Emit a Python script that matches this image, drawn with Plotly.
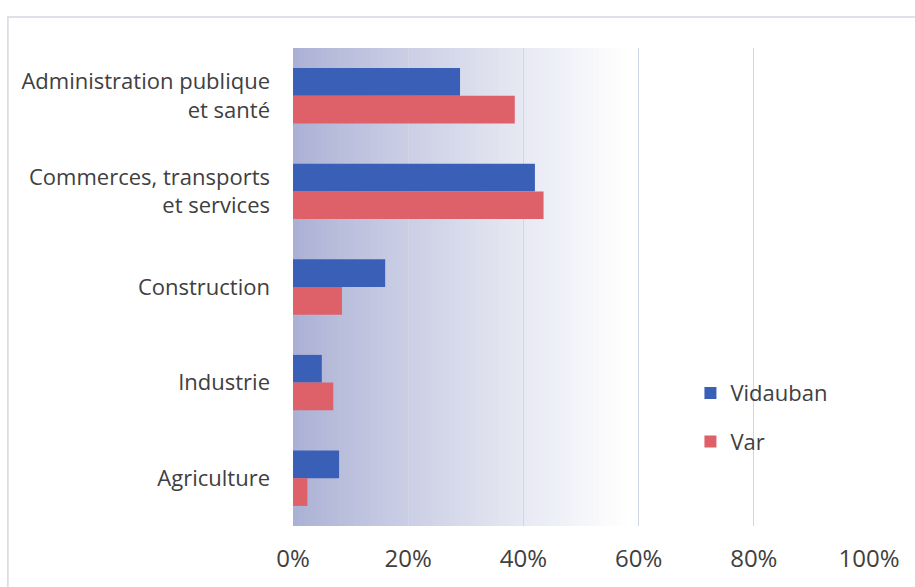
import plotly.graph_objects as go

# Employment share by sector (%)
categories = [
    "Administration publique<br>et santé",
    "Commerces, transports<br>et services",
    "Construction",
    "Industrie",
    "Agriculture",
]
vidauban = [29, 42, 16, 5, 8]
var = [38.5, 43.5, 8.5, 7, 2.5]
x_ticks = [0, 20, 40, 60, 80, 100]
x_tick_labels = ["0%", "20%", "40%", "60%", "80%", "100%"]

BLUE = "#3a5fb6"
RED = "#de6169"
TEXT = "#404040"
FONT = "Open Sans, Lato, sans-serif"

fig = go.Figure()
fig.add_trace(go.Bar(
    y=categories, x=vidauban, name="Vidauban", orientation="h",
    marker=dict(color=BLUE, line=dict(width=0)), legendgroup="a",
))
fig.add_trace(go.Bar(
    y=categories, x=var, name="Var", orientation="h",
    marker=dict(color=RED, line=dict(width=0)), legendgroup="b",
))

# Horizontal gradient behind the bars (lavender fading to white)
shapes = []
n = 60
end = 0.58
c0 = (170, 176, 212)
for i in range(n):
    t0 = i / n * end
    t1 = (i + 1) / n * end + 0.002
    f = (i + 0.5) / n
    f = f ** 0.9
    col = tuple(int(round(c0[k] + (255 - c0[k]) * f)) for k in range(3))
    shapes.append(dict(
        type="rect", xref="x domain", yref="y domain",
        x0=t0, x1=min(t1, end), y0=0, y1=1,
        fillcolor="rgb(%d,%d,%d)" % col, line=dict(width=0), layer="below",
    ))
# Outer chart frame
shapes.append(dict(
    type="rect", xref="paper", yref="paper",
    x0=-0.495, x1=1.2, y0=-0.2, y1=1.065,
    line=dict(color="#d4d8e0", width=1.5), fillcolor="rgba(0,0,0,0)",
    layer="below",
))

fig.update_layout(
    width=915, height=587,
    margin=dict(l=293, r=46, t=48, b=61),
    paper_bgcolor="white", plot_bgcolor="white",
    barmode="group", bargap=0.42, bargroupgap=0.0,
    font=dict(family=FONT, size=22, color=TEXT),
    shapes=shapes,
    showlegend=True,
    legend=dict(
        x=0.69, y=0.322, xanchor="left", yanchor="top",
        bgcolor="rgba(0,0,0,0)", traceorder="grouped",
        tracegroupgap=17, font=dict(size=22, color=TEXT),
        itemwidth=30,
    ),
    xaxis=dict(
        range=[0, 100], tickvals=x_ticks, ticktext=x_tick_labels,
        showgrid=True, gridcolor="#d0d6e4", gridwidth=1,
        zeroline=False, showline=False, ticks="",
        tickfont=dict(size=24, color=TEXT), ticklabelstandoff=16,
    ),
    yaxis=dict(
        autorange="reversed", showgrid=False, zeroline=False,
        showline=False, ticks="", ticklabelstandoff=22,
        tickfont=dict(size=22, color=TEXT),
    ),
)

fig.write_html("out.html")
